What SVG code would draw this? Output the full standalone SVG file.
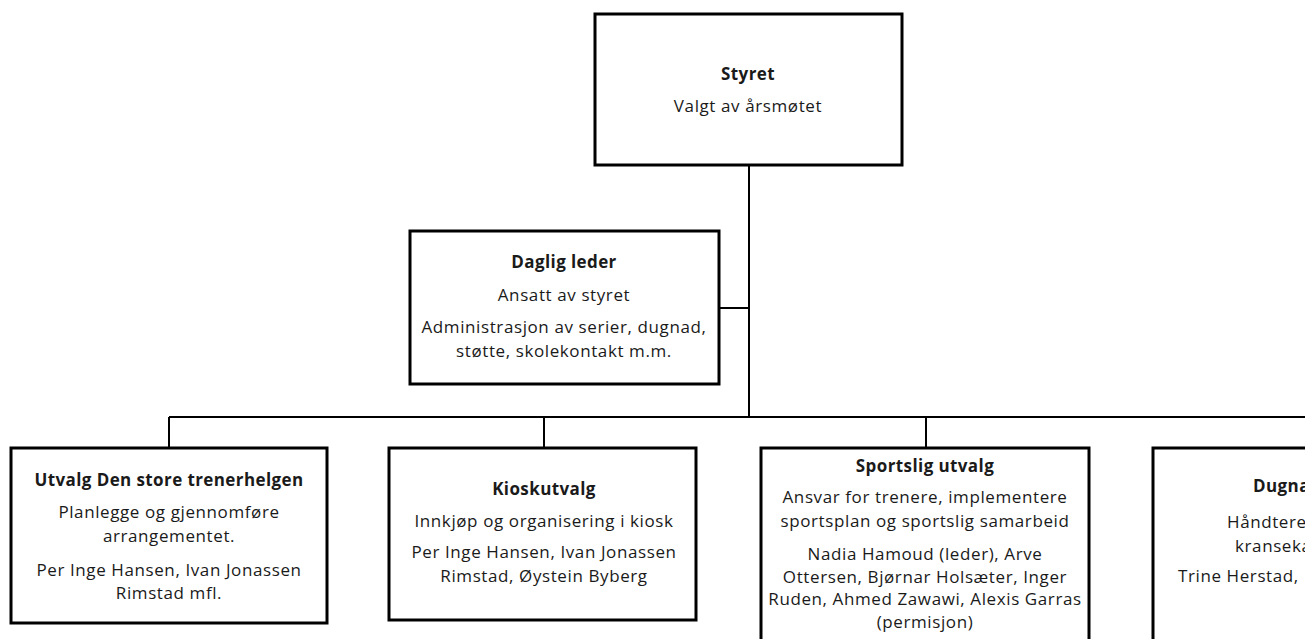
<svg xmlns="http://www.w3.org/2000/svg" width="1305" height="639" viewBox="0 0 1305 639">
<style>
.box{fill:#fff;stroke:#000;stroke-width:3}
.ln{stroke:#000;stroke-width:2;fill:none}
text{font-family:"Open Sans","Noto Sans",sans-serif;font-size:17px;letter-spacing:0.6px;fill:#1a1a1a;text-anchor:middle}
.b{font-weight:bold;letter-spacing:0.4px}
.s{text-anchor:start}
</style>
<rect width="1305" height="639" fill="#fff"/>
<g id="connectors">
<path class="ln" d="M749 165V417M719 308H749M169 417H1305M169 417V448M544 417V448M926 417V448"/>
</g>
<g id="styret">
<rect class="box" x="595" y="14" width="307" height="151"/>
<text x="748" y="80" class="b">Styret</text>
<text x="748" y="112">Valgt av årsmøtet</text>
</g>
<g id="daglig-leder">
<rect class="box" x="410" y="231" width="309" height="153"/>
<text x="564" y="268" class="b">Daglig leder</text>
<text x="564" y="301">Ansatt av styret</text>
<text x="564" y="333">Administrasjon av serier, dugnad,</text>
<text x="564" y="357">støtte, skolekontakt m.m.</text>
</g>
<g id="trenerhelgen">
<rect class="box" x="11" y="448" width="316" height="175"/>
<text x="169" y="486" class="b">Utvalg Den store trenerhelgen</text>
<text x="169" y="518">Planlegge og gjennomføre</text>
<text x="169" y="542">arrangementet.</text>
<text x="169" y="576">Per Inge Hansen, Ivan Jonassen</text>
<text x="169" y="599">Rimstad mfl.</text>
</g>
<g id="kioskutvalg">
<rect class="box" x="389" y="448" width="307" height="172"/>
<text x="544" y="495" class="b">Kioskutvalg</text>
<text x="544" y="527">Innkjøp og organisering i kiosk</text>
<text x="544" y="558">Per Inge Hansen, Ivan Jonassen</text>
<text x="544" y="582">Rimstad, Øystein Byberg</text>
</g>
<g id="sportslig">
<rect class="box" x="761" y="448" width="328" height="200"/>
<text x="925" y="472" class="b">Sportslig utvalg</text>
<text x="925" y="503">Ansvar for trenere, implementere</text>
<text x="925" y="527">sportsplan og sportslig samarbeid</text>
<text x="925" y="560">Nadia Hamoud (leder), Arve</text>
<text x="925" y="583">Ottersen, Bjørnar Holsæter, Inger</text>
<text x="925" y="605">Ruden, Ahmed Zawawi, Alexis Garras</text>
<text x="925" y="628">(permisjon)</text>
</g>
<g id="dugnad">
<rect class="box" x="1153" y="448" width="200" height="200"/>
<text x="1253" y="492" class="b s">Dugna</text>
<text x="1227" y="528" class="s">Håndtere</text>
<text x="1235" y="552" class="s">kranseka</text>
<text x="1178" y="582" class="s">Trine Herstad,</text>
</g>
</svg>
